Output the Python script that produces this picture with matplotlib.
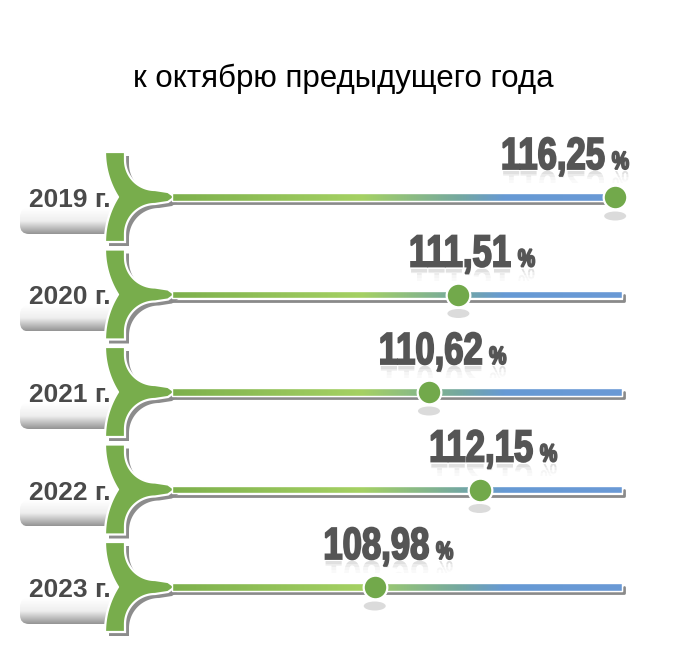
import numpy as np
import matplotlib
matplotlib.use('Agg')
import matplotlib.pyplot as plt
from matplotlib.patches import Polygon, PathPatch, Rectangle, FancyBboxPatch, Ellipse
from matplotlib.textpath import TextPath
from matplotlib.font_manager import FontProperties
from matplotlib.transforms import Affine2D
from matplotlib.colors import LinearSegmentedColormap

# data
title = 'к октябрю предыдущего года'
years = ['2019 г.', '2020 г.', '2021 г.', '2022 г.', '2023 г.']
values = [116.25, 111.51, 110.62, 112.15, 108.98]
labels = ['116,25', '111,51', '110,62', '112,15', '108,98']

W, H = 680, 659
fig = plt.figure(figsize=(W / 100, H / 100), dpi=100)
ax = fig.add_axes([0, 0, 1, 1])
ax.set_xlim(0, W)
ax.set_ylim(H, 0)
ax.axis('off')

# value axis on top, same pixel height, x in percent
axv = fig.add_axes([0, 0, 1, 1])
axv.set_xlim(97.65, 118.21)
axv.set_ylim(H, 0)
axv.axis('off')
axv.patch.set_alpha(0)

ax.text(343, 87, title, ha='center', va='baseline', fontsize=22.5,
        family=['Liberation Sans', 'DejaVu Sans'], color='black')

green = '#78ad4c'
bar_cmap = LinearSegmentedColormap.from_list(
    'bar', [(0.0, '#7db04c'), (0.42, '#a5d163'), (0.64, '#74a8a0'),
            (0.74, '#6699d4'), (1.0, '#6a9ad6')])
box_cmap = LinearSegmentedColormap.from_list('box', ['#ffffff', '#eeeeee', '#959595'])

num_fp = FontProperties(family=['Liberation Sans', 'DejaVu Sans'], weight='bold')
sx = 0.77


def bracket(yc):
    # upper arm: inner edge then tip, lower arm mirrored, outer edge back up
    t = np.radians(np.linspace(180, 90, 30))
    upper = [(125, yc - 45)] + list(zip(155 + 30 * np.cos(t), yc - 37 + 30 * np.sin(t))) + [(168, yc - 5)]
    pts = upper + [(175, yc)] + [(x, 2 * yc - y) for x, y in upper[::-1]]
    t = np.radians(np.linspace(180, 147.8, 30))
    pts += list(zip(189.4 + 84.4 * np.cos(t), yc + 45 - 84.4 * np.sin(t)))
    t = np.radians(np.linspace(147.8, 180, 30))
    pts += list(zip(189.4 + 84.4 * np.cos(t), yc - 45 + 84.4 * np.sin(t)))
    return np.array(pts)


def text_patch(s, size, x0, base, color, **kw):
    tp = TextPath((0, 0), s, size=size, prop=num_fp)
    tr = Affine2D().scale(sx, -1).translate(x0, base)
    p = PathPatch(tr.transform_path(tp), facecolor=color, edgecolor=color, lw=1.3, **kw)
    ax.add_patch(p)
    # faded reflection
    rt = Affine2D().scale(sx, 1).translate(x0, base + 2)
    for k, a in enumerate([0.18, 0.11, 0.06, 0.03]):
        rp = PathPatch(rt.transform_path(tp), facecolor=color, edgecolor='none', alpha=a)
        ax.add_patch(rp)
        clip = Rectangle((x0 - 2, base + 2 + 3 * k), 200, 3, transform=ax.transData)
        rp.set_clip_path(clip)


def width_of(s, size):
    tp = TextPath((0, 0), s, size=size, prop=num_fp)
    return tp.get_extents().width * sx


y0, dy = 197, 97.5
for i, (yr, v, lab) in enumerate(zip(years, values, labels)):
    yc = y0 + dy * i

    # year label box with gradient
    box = FancyBboxPatch((20, yc + 11), 102, 26, boxstyle='round,pad=0,rounding_size=9',
                         facecolor='none', edgecolor='none')
    ax.add_patch(box)
    im = ax.imshow(np.linspace(0, 1, 50).reshape(-1, 1), cmap=box_cmap, aspect='auto',
                   extent=(20, 122, yc + 37, yc + 11), zorder=1)
    im.set_clip_path(box)
    ax.text(111, yc + 10, yr, ha='right', va='baseline', fontsize=19, fontweight='bold',
            family=['Liberation Sans', 'DejaVu Sans'], color='#4a4a4a', zorder=3)

    # bracket with shadow
    pts = bracket(yc)
    ax.add_patch(Polygon(pts + [4, 4], closed=True, facecolor='#8c8c8c', edgecolor='none', zorder=2))
    ax.add_patch(Polygon(pts, closed=True, facecolor=green, edgecolor='white', lw=1.6, zorder=4))

    # bar track with shadow
    ax.plot([166, 624, 624], [yc + 6, yc + 6, yc], color='#8a8a8a', lw=2, zorder=2,
            solid_capstyle='round', solid_joinstyle='round')
    bar = Rectangle((172, yc - 3.6), 450, 7.2, facecolor='none', edgecolor='white', lw=1, zorder=5)
    ax.add_patch(bar)
    gi = ax.imshow(np.linspace(0, 1, 256).reshape(1, -1), cmap=bar_cmap, aspect='auto',
                   extent=(172, 622, yc + 3.6, yc - 3.6), zorder=4)
    gi.set_clip_path(bar)

    # dot on value scale
    xd = ax.transData.inverted().transform(axv.transData.transform((v, yc)))[0]
    ax.add_patch(Ellipse((xd, yc + 19), 22, 9, facecolor='#c4c4c4', edgecolor='none', alpha=0.6, zorder=2))
    axv.scatter([v], [yc], s=290, color='#72a94b', edgecolors='white', linewidths=1.6, zorder=6)

    # value label
    wn = width_of(lab, 45)
    wp = width_of('%', 25)
    x0 = xd - wn / 2
    x0 = min(x0, 628 - wp - 10 - wn)
    base = yc - 28
    text_patch(lab, 45, x0, base, '#555555', zorder=7)
    text_patch('%', 25, x0 + wn + 10, base, '#555555', zorder=7)

ax.set_xlim(0, W)
ax.set_ylim(H, 0)
fig.savefig('out.png', dpi=100)
